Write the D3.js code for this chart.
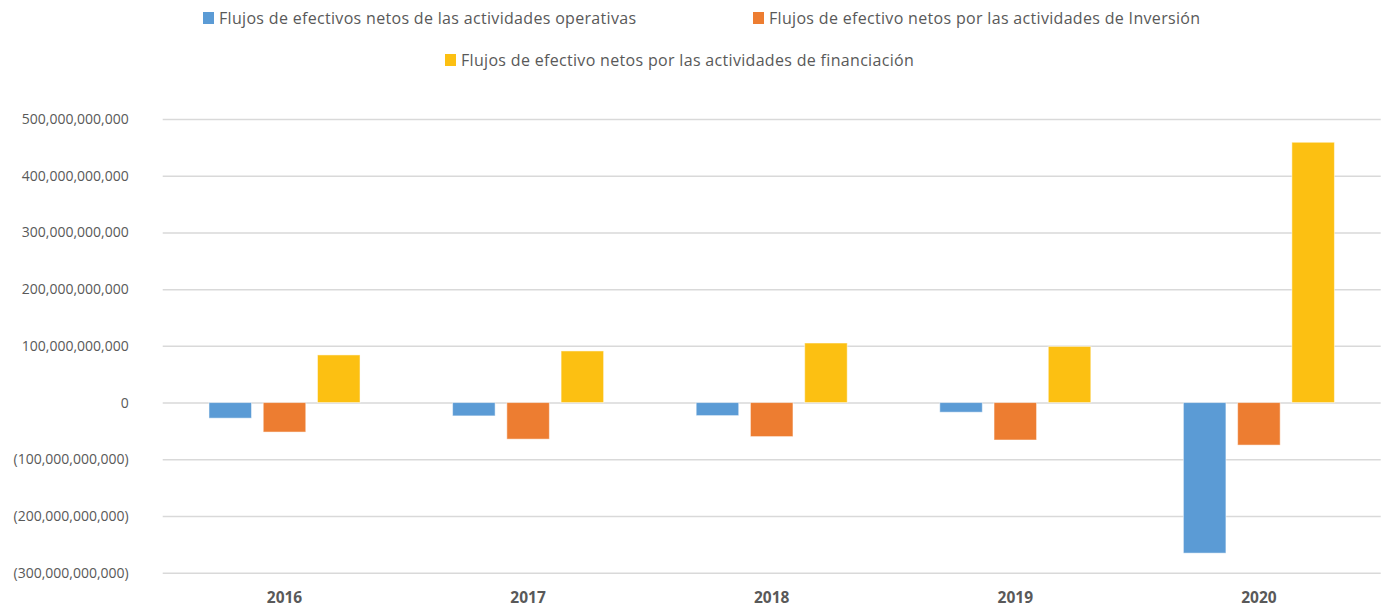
<!DOCTYPE html>
<html>
<head>
<meta charset="utf-8">
<script src="https://cdn.jsdelivr.net/npm/d3@7"></script>
<style>
  body { margin: 0; background: #fff; }
  text { font-family: "Open Sans", sans-serif; fill: #595959; }
</style>
</head>
<body>
<div id="chart"></div>
<script>
// chart data
const years = ["2016", "2017", "2018", "2019", "2020"];
const operativas = [-27.5e9, -23.5e9, -23e9, -17e9, -265.5e9];
const inversion = [-52e9, -64.5e9, -60e9, -66e9, -75e9];
const financiacion = [84e9, 91e9, 105e9, 99e9, 459e9];
const seriesNames = [
    "Flujos de efectivos netos de las actividades operativas",
    "Flujos de efectivo netos por las actividades de Inversión",
    "Flujos de efectivo netos por las actividades de financiación"
];
const yTicks = [-300e9, -200e9, -100e9, 0, 100e9, 200e9, 300e9, 400e9, 500e9];

const colors = ["#5B9BD5", "#ED7D31", "#FCC012"];
const seriesValues = [operativas, inversion, financiacion];

const width = 1384;
const height = 607;
const margin = { top: 119, right: 3.3, bottom: 34.3, left: 162.7 };

const svg = d3.select("#chart")
    .append("svg")
    .attr("width", width)
    .attr("height", height);

const x0 = d3.scaleBand()
    .domain(years)
    .range([margin.left, width - margin.right])
    .padding(0);

const outer = x0.bandwidth() * 0.19;
const x1 = d3.scaleBand()
    .domain(d3.range(seriesNames.length))
    .range([outer, x0.bandwidth() - outer])
    .paddingInner(0.216)
    .paddingOuter(0);

const y = d3.scaleLinear()
    .domain([-300e9, 500e9])
    .range([height - margin.bottom, margin.top]);

// format negatives with parentheses
const fmt = d3.format(",");
function tickFormat(v) {
    return v < 0 ? "(" + fmt(-v) + ")" : fmt(v);
}

// gridlines + y labels
const yAxis = svg.append("g")
    .attr("transform", `translate(${margin.left},0)`)
    .call(d3.axisLeft(y)
        .tickValues(yTicks)
        .tickSize(-(width - margin.left - margin.right))
        .tickPadding(34)
        .tickFormat(tickFormat));
yAxis.select(".domain").remove();
yAxis.selectAll(".tick line")
    .attr("stroke", "#d9d9d9")
    .attr("stroke-width", 1.5);
yAxis.selectAll(".tick text")
    .style("font-size", "14px")
    .style("font-family", "'Open Sans', sans-serif")
    .attr("fill", "#595959");

// bars
const data = [];
years.forEach((yr, i) => {
    seriesValues.forEach((vals, s) => {
        data.push({ year: yr, s: s, value: vals[i] });
    });
});

svg.append("g")
    .selectAll("rect")
    .data(data)
    .enter()
    .append("rect")
    .attr("x", d => x0(d.year) + x1(d.s))
    .attr("y", d => y(Math.max(0, d.value)))
    .attr("width", x1.bandwidth())
    .attr("height", d => Math.abs(y(d.value) - y(0)))
    .attr("fill", d => colors[d.s])
    .attr("stroke", "#ffffff")
    .attr("stroke-opacity", 0.5)
    .attr("stroke-width", 1);

// x labels
svg.append("g")
    .selectAll("text")
    .data(years)
    .enter()
    .append("text")
    .attr("x", d => x0(d) + x0.bandwidth() / 2)
    .attr("y", 603)
    .attr("text-anchor", "middle")
    .style("font-size", "15.5px")
    .style("font-weight", "bold")
    .text(d => d);

// legend
const legendPos = [
    { x: 203, y: 18 },
    { x: 753, y: 18 },
    { x: 445, y: 60 }
];
const legend = svg.append("g")
    .selectAll("g")
    .data(seriesNames)
    .enter()
    .append("g")
    .attr("transform", (d, i) => `translate(${legendPos[i].x},${legendPos[i].y})`);

legend.append("rect")
    .attr("x", 0)
    .attr("y", -6)
    .attr("width", 11)
    .attr("height", 12)
    .attr("fill", (d, i) => colors[i]);

legend.append("text")
    .attr("x", 16)
    .attr("y", 5.5)
    .style("font-size", "16px")
    .style("letter-spacing", "0.32px")
    .text(d => d);
</script>
</body>
</html>
